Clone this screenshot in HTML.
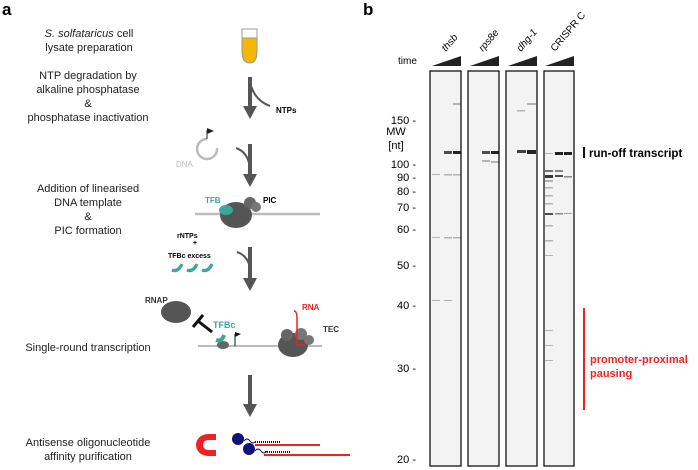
<!DOCTYPE html>
<html><head><meta charset="utf-8"><style>
body{margin:0;background:#fff}
svg{display:block;font-family:"Liberation Sans",sans-serif}
</style></head><body>
<svg width="698" height="470" viewBox="0 0 698 470" xmlns="http://www.w3.org/2000/svg">
<text x="2" y="15" font-size="17" font-weight="bold">a</text>
<g font-size="11" fill="#222" text-anchor="middle">
<text x="89" y="37"><tspan font-style="italic">S. solfataricus</tspan> cell</text>
<text x="89" y="51">lysate preparation</text>
<text x="88" y="79">NTP degradation by</text>
<text x="88" y="93">alkaline phosphatase</text>
<text x="88" y="107">&amp;</text>
<text x="88" y="121">phosphatase inactivation</text>
<text x="88" y="192">Addition of linearised</text>
<text x="88" y="206">DNA template</text>
<text x="88" y="220">&amp;</text>
<text x="88" y="234">PIC formation</text>
<text x="88" y="351">Single-round transcription</text>
<text x="88" y="446">Antisense oligonucleotide</text>
<text x="88" y="460">affinity purification</text>
</g>
<path d="M242 29 h15 v22 q0 12 -7.5 12 q-7.5 0 -7.5 -12z" fill="#f5b800" stroke="#999" stroke-width="1"/>
<rect x="242" y="29" width="15" height="9" fill="#fff" stroke="#999"/>
<g fill="#555" stroke="#555">
<line x1="250" y1="77" x2="250" y2="107" stroke-width="4"/><polygon points="243,106 257,106 250,119" stroke="none"/>
<line x1="250" y1="144" x2="250" y2="175" stroke-width="4"/><polygon points="243,174 257,174 250,187" stroke="none"/>
<line x1="250" y1="247" x2="250" y2="279" stroke-width="4"/><polygon points="243,278 257,278 250,291" stroke="none"/>
<line x1="250" y1="375" x2="250" y2="405" stroke-width="4"/><polygon points="243,404 257,404 250,417" stroke="none"/>
</g>
<g fill="none" stroke="#555" stroke-width="2">
<path d="M251 86 q5 15 19 20"/><path d="M236 148 q12 4 14 20"/><path d="M237 252 q12 4 14 20"/>
</g>
<text x="276" y="113" font-size="8" font-weight="bold">NTPs</text>
<path d="M217 148 a10 10 0 1 1 -10 -9" fill="none" stroke="#bbb" stroke-width="2.5"/>
<line x1="207" y1="139" x2="207" y2="130" stroke="#222"/><polygon points="207,128 214,131 207,134" fill="#222"/>
<text x="176" y="167" font-size="8" fill="#bbb">DNA</text>
<line x1="195" y1="214" x2="320" y2="214" stroke="#bbb" stroke-width="2.5"/>
<ellipse cx="236" cy="215" rx="16" ry="13" fill="#555"/>
<circle cx="250" cy="203" r="6" fill="#666"/><circle cx="256" cy="207" r="5" fill="#777"/>
<ellipse cx="226" cy="210" rx="7" ry="5" fill="#3aa89a"/>
<text x="205" y="203" font-size="8" font-weight="bold" fill="#3aa89a">TFB</text>
<text x="263" y="203" font-size="8" font-weight="bold">PIC</text>
<text x="177" y="238" font-size="7" font-weight="bold">rNTPs</text>
<text x="193" y="245" font-size="7" font-weight="bold">+</text>
<text x="168" y="258" font-size="7" font-weight="bold">TFBc excess</text>
<g fill="#3aa89a"><path d="M172 270 q6 2 10 -6 q-4 9 -10 6z" stroke="#3aa89a" stroke-width="3"/><path d="M187 270 q6 2 10 -6 q-4 9 -10 6z" stroke="#3aa89a" stroke-width="3"/><path d="M202 270 q6 2 10 -6 q-4 9 -10 6z" stroke="#3aa89a" stroke-width="3"/></g>
<text x="145" y="303" font-size="8" font-weight="bold" fill="#333">RNAP</text>
<ellipse cx="176" cy="312" rx="15" ry="11" fill="#555"/>
<line x1="212" y1="332" x2="198" y2="321" stroke="#111" stroke-width="3"/><line x1="193" y1="327" x2="203" y2="315" stroke="#111" stroke-width="3"/>
<text x="213" y="328" font-size="9" font-weight="bold" fill="#3aa89a">TFBc</text>
<line x1="198" y1="346" x2="322" y2="346" stroke="#bbb" stroke-width="2"/>
<ellipse cx="223" cy="345" rx="6" ry="4" fill="#666"/>
<path d="M216 340 q6 2 8 -5" stroke="#3aa89a" stroke-width="4" fill="none"/>
<line x1="235" y1="346" x2="235" y2="334" stroke="#111"/><polygon points="235,332 241,334 235,337" fill="#111"/>
<ellipse cx="293" cy="345" rx="15" ry="12" fill="#555"/>
<circle cx="287" cy="335" r="6" fill="#666"/><circle cx="301" cy="334" r="6" fill="#777"/><circle cx="309" cy="340" r="5" fill="#777"/>
<path d="M294 311 q3 0 3 8 v26 h8" stroke="#e22" stroke-width="1.5" fill="none"/>
<text x="302" y="310" font-size="8" font-weight="bold" fill="#e22">RNA</text>
<text x="323" y="332" font-size="8" font-weight="bold" fill="#333">TEC</text>
<path d="M216 434 h-8 a12 11 0 0 0 0 22 h8 v-6 h-8 a5 5 0 0 1 0 -10 h8z" fill="#e22"/>
<circle cx="238" cy="439" r="6" fill="#11117a"/><circle cx="249" cy="449" r="6" fill="#11117a"/>
<path d="M244 441 q3 -4 6 0 t6 0" stroke="#11117a" fill="none"/><path d="M255 451 q3 -4 6 0 t6 0" stroke="#11117a" fill="none"/>
<line x1="255" y1="442" x2="280" y2="442" stroke="#11117a" stroke-width="2" stroke-dasharray="1,1"/>
<line x1="265" y1="452" x2="290" y2="452" stroke="#11117a" stroke-width="2" stroke-dasharray="1,1"/>
<line x1="255" y1="445" x2="320" y2="445" stroke="#e22" stroke-width="2"/>
<line x1="264" y1="455" x2="350" y2="455" stroke="#e22" stroke-width="2"/>

<text x="363" y="15" font-size="17" font-weight="bold">b</text>
<text x="398" y="64" font-size="10">time</text>
<g fill="#222"><polygon points="432,66 461,66 461,56"/><polygon points="470,66 499,66 499,56"/><polygon points="508,66 537,66 537,56"/><polygon points="545,66 574,66 574,56"/></g>
<g font-size="10" font-style="italic">
<text transform="translate(446,52) rotate(-50)">thsb</text>
<text transform="translate(483,52) rotate(-50)">rps8e</text>
<text transform="translate(521,52) rotate(-50)">dhg-1</text>
<text transform="translate(555,52) rotate(-50)" font-style="normal">CRISPR C</text>
</g>
<g font-size="11" text-anchor="end">
<text x="416" y="124">150 -</text><text x="416" y="168">100 -</text><text x="416" y="181">90 -</text>
<text x="416" y="195">80 -</text><text x="416" y="211">70 -</text><text x="416" y="233">60 -</text>
<text x="416" y="269">50 -</text><text x="416" y="309">40 -</text><text x="416" y="372">30 -</text>
<text x="416" y="463">20 -</text>
</g>
<text x="396" y="135" font-size="11" text-anchor="middle">MW</text>
<text x="396" y="149" font-size="11" text-anchor="middle">[nt]</text>
<g fill="#f3f3f3">
<rect x="431" y="72" width="30" height="393"/><rect x="469" y="72" width="30" height="393"/>
<rect x="507" y="72" width="30" height="393"/><rect x="545" y="72" width="29" height="393"/>
</g>
<g fill="#222">
<rect x="444" y="151" width="8" height="3" opacity=".8"/><rect x="453" y="151" width="8" height="3"/>
<rect x="482" y="151" width="8" height="3" opacity=".8"/><rect x="491" y="151" width="8" height="3"/>
<rect x="517" y="150" width="9" height="3" opacity=".85"/><rect x="527" y="150" width="9" height="4"/>
<rect x="555" y="152" width="8" height="3"/><rect x="564" y="152" width="8" height="3"/><rect x="545" y="153" width="8" height="1" opacity=".3"/>
<rect x="545" y="175" width="8" height="3" opacity=".9"/><rect x="555" y="175" width="8" height="2" opacity=".8"/><rect x="564" y="176" width="8" height="1.5" opacity=".5"/>
<rect x="545" y="170" width="8" height="2" opacity=".6"/><rect x="555" y="170" width="8" height="2" opacity=".5"/>
<rect x="545" y="213" width="8" height="2" opacity=".8"/><rect x="555" y="213" width="8" height="1.5" opacity=".5"/><rect x="564" y="213" width="8" height="1" opacity=".4"/>
<g opacity=".3">
<rect x="432" y="174" width="8" height="1"/><rect x="444" y="174" width="8" height="1.5"/><rect x="453" y="174" width="8" height="1.5"/>
<rect x="432" y="237" width="8" height="1"/><rect x="444" y="237" width="8" height="1.5"/><rect x="453" y="237" width="8" height="1.5"/>
<rect x="432" y="300" width="8" height="1"/><rect x="444" y="300" width="8" height="1"/>
<rect x="482" y="160" width="8" height="2"/><rect x="491" y="161" width="8" height="2"/>
<rect x="453" y="103" width="8" height="2"/><rect x="517" y="110" width="8" height="1.5"/><rect x="527" y="103" width="9" height="2"/>
<rect x="545" y="180" width="8" height="2"/><rect x="545" y="187" width="8" height="1.5"/><rect x="545" y="195" width="8" height="1.5"/><rect x="545" y="203" width="8" height="1.5"/>
<rect x="545" y="225" width="8" height="1.5"/><rect x="545" y="240" width="8" height="1.5"/><rect x="545" y="255" width="8" height="1"/>
<rect x="545" y="330" width="8" height="1"/><rect x="545" y="345" width="8" height="1"/><rect x="545" y="360" width="8" height="1"/>
</g>
</g>
<g fill="none" stroke="#111" stroke-width="1.3">
<rect x="430" y="71" width="31" height="395"/><rect x="468" y="71" width="31" height="395"/>
<rect x="506" y="71" width="31" height="395"/><rect x="544" y="71" width="30" height="395"/>
</g>
<line x1="584" y1="147" x2="584" y2="158" stroke="#111" stroke-width="2"/>
<text x="589" y="157" font-size="11.5" font-weight="bold">run-off transcript</text>
<line x1="584" y1="308" x2="584" y2="410" stroke="#e22" stroke-width="2"/>
<text x="590" y="363" font-size="11" font-weight="bold" fill="#e22">promoter-proximal</text>
<text x="590" y="377" font-size="11" font-weight="bold" fill="#e22">pausing</text>
</svg>
</body></html>
